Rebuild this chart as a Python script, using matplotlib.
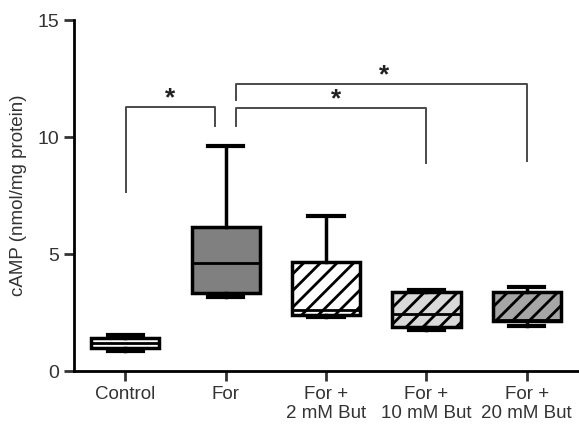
import matplotlib.pyplot as plt

plt.rcParams['font.family'] = ['Liberation Sans', 'DejaVu Sans']
plt.rcParams['hatch.linewidth'] = 2.0

# Box plot statistics per group (nmol/mg protein)
groups = ['Control', 'For', 'For +\n2 mM But', 'For +\n10 mM But', 'For +\n20 mM But']
whisker_low = [0.85, 3.15, 2.3, 1.75, 1.93]
q1 = [0.98, 3.33, 2.39, 1.9, 2.14]
medians = [1.2, 4.6, 2.6, 2.44, 2.2]
q3 = [1.41, 6.15, 4.66, 3.37, 3.37]
whisker_high = [1.52, 9.62, 6.62, 3.48, 3.6]

box_colors = ['white', '#808080', 'white', '#d9d9d9', '#a6a6a6']
hatches = [None, None, '//', '//', '//']

stats = []
for i in range(len(groups)):
    stats.append({'whislo': whisker_low[i], 'q1': q1[i], 'med': medians[i],
                  'q3': q3[i], 'whishi': whisker_high[i], 'fliers': []})

fig = plt.figure(figsize=(5.79, 4.26), dpi=100)
ax = fig.add_axes([0.128, 0.129, 0.872, 0.824])

bp = ax.bxp(stats, positions=range(len(groups)), widths=0.68, patch_artist=True,
            showfliers=False,
            boxprops=dict(linewidth=2.5, edgecolor='black'),
            medianprops=dict(color='black', linewidth=2),
            whiskerprops=dict(color='black', linewidth=2.5),
            capprops=dict(color='black', linewidth=3),
            capwidths=0.35)
for patch, c, h in zip(bp['boxes'], box_colors, hatches):
    patch.set_facecolor(c)
    if h:
        patch.set_hatch(h)

# Significance brackets
def bracket(x1, x2, y, y1_end, y2_end, label_x):
    ax.plot([x1, x1, x2, x2], [y1_end, y, y, y2_end], color='#4a4a4a', lw=1.4)
    ax.text(label_x, y - 0.12, '*', ha='center', va='bottom', fontsize=19,
            fontweight='bold', color='#222222')

bracket(0.01, 0.89, 11.28, 7.65, 10.47, 0.45)
bracket(1.1, 3.0, 11.24, 10.47, 8.9, 2.1)
bracket(1.1, 4.0, 12.26, 11.6, 8.97, 2.58)

ax.set_xlim(-0.51, 4.52)
ax.set_ylim(0, 15)
ax.set_yticks([0, 5, 10, 15])
ax.set_xticks(range(len(groups)))
ax.set_xticklabels(groups, fontsize=13.5, color='#333333', linespacing=1.1)
ax.tick_params(axis='y', labelsize=14, width=2, length=7, colors='#333333')
ax.tick_params(axis='x', width=2, length=7, colors='#333333', pad=4)
ax.set_ylabel('cAMP (nmol/mg protein)', fontsize=13.5, color='#333333', labelpad=8)

for s in ['top', 'right']:
    ax.spines[s].set_visible(False)
for s in ['left', 'bottom']:
    ax.spines[s].set_linewidth(2)

fig.savefig('out.png', dpi=100)
